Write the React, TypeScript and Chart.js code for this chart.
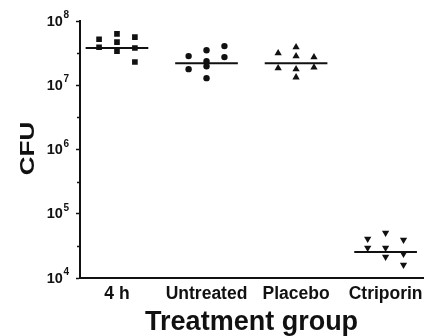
import React, { useEffect, useRef } from "react";
import { Chart, registerables } from "chart.js";

Chart.register(...registerables);

const CATEGORIES = ["4 h", "Untreated", "Placebo", "Ctriporin"];
const COLUMN_OFFSETS = [-0.2, 0, 0.2];

const VALUES_4H = [5.2e7, 3.9e7, 6.3e7, 4.7e7, 3.4e7, 5.6e7, 3.8e7, 2.3e7];
const COLUMNS_4H = [0, 0, 1, 1, 1, 2, 2, 2];

const VALUES_UNTREATED = [2.84e7, 1.78e7, 3.5e7, 2.37e7, 1.98e7, 1.29e7, 4.07e7, 2.74e7];
const COLUMNS_UNTREATED = [0, 0, 1, 1, 1, 1, 2, 2];

const VALUES_PLACEBO = [3.16e7, 1.85e7, 3.9e7, 2.84e7, 1.78e7, 1.33e7, 2.74e7, 1.9e7];
const COLUMNS_PLACEBO = [0, 0, 1, 1, 1, 1, 2, 2];

const VALUES_CTRIPORIN = [4.07e4, 2.94e4, 5.05e4, 2.94e4, 2.13e4, 3.93e4, 2.37e4, 1.6e4];
const COLUMNS_CTRIPORIN = [0, 0, 1, 1, 1, 2, 2, 2];

const MEDIANS = [3.8e7, 2.2e7, 2.2e7, 2.55e4];
const MEDIAN_HALF_WIDTH = 0.35;

const Y_MAJOR_TICKS = [1e4, 1e5, 1e6, 1e7, 1e8];
const Y_MINOR_TICKS = [3.162e4, 3.162e5, 3.162e6, 3.162e7];
const Y_TITLE = "CFU";

const FONT = "'Liberation Sans', Arial, sans-serif";

function points(groupIndex: number, values: number[], columns: number[]) {
  return values.map((v, i) => ({ x: groupIndex + COLUMN_OFFSETS[columns[i]], y: v }));
}

const axisExtrasPlugin = {
  id: "axisExtras",
  afterDraw(chart: any) {
    const y = chart.scales.y;
    const ctx = chart.ctx;
    const { left, top, bottom } = chart.chartArea;
    ctx.save();
    ctx.strokeStyle = "#111";
    ctx.lineWidth = 1.5;
    Y_MINOR_TICKS.forEach((v) => {
      const py = Math.round(y.getPixelForValue(v)) + 0.5;
      ctx.beginPath();
      ctx.moveTo(left - 3, py);
      ctx.lineTo(left, py);
      ctx.stroke();
    });
    // power-of-ten tick labels: "10" with a raised exponent
    ctx.fillStyle = "#111";
    const rightEdge = left - 11;
    Y_MAJOR_TICKS.forEach((v) => {
      const py = y.getPixelForValue(v);
      const exp = String(Math.round(Math.log10(v)));
      ctx.font = `bold 10px ${FONT}`;
      ctx.textAlign = "right";
      ctx.textBaseline = "alphabetic";
      const expWidth = ctx.measureText(exp).width;
      ctx.fillText(exp, rightEdge, py - 3);
      ctx.font = `bold 14.5px ${FONT}`;
      ctx.textBaseline = "middle";
      ctx.fillText("10", rightEdge - expWidth - 0.5, py + 0.5);
    });
    // y-axis title, rotated
    const cy = (top + bottom) / 2 - 1;
    ctx.translate(28, cy);
    ctx.rotate(-Math.PI / 2);
    ctx.scale(1.3, 1);
    ctx.font = `bold 20px ${FONT}`;
    ctx.textAlign = "center";
    ctx.textBaseline = "middle";
    ctx.fillText(Y_TITLE, 0, 0);
    ctx.restore();
  },
};

export default function App() {
  const canvasRef = useRef<HTMLCanvasElement | null>(null);

  useEffect(() => {
    document.body.style.margin = "0";
    const canvas = canvasRef.current;
    if (!canvas) return;

    const markerBase = {
      backgroundColor: "#111",
      borderColor: "#111",
      borderWidth: 0,
      showLine: false,
    };

    const medianSets = MEDIANS.map((m, i) => ({
      type: "line" as const,
      data: [
        { x: i - MEDIAN_HALF_WIDTH, y: m },
        { x: i + MEDIAN_HALF_WIDTH, y: m },
      ],
      borderColor: "#111",
      borderWidth: 2,
      pointRadius: 0,
      showLine: true,
      fill: false,
    }));

    const chart = new Chart(canvas, {
      type: "scatter",
      data: {
        datasets: [
          { ...markerBase, data: points(0, VALUES_4H, COLUMNS_4H), pointStyle: "rect", pointRadius: 4 },
          { ...markerBase, data: points(1, VALUES_UNTREATED, COLUMNS_UNTREATED), pointStyle: "circle", pointRadius: 3.2 },
          { ...markerBase, data: points(2, VALUES_PLACEBO, COLUMNS_PLACEBO), pointStyle: "triangle", pointRadius: 4.2 },
          { ...markerBase, data: points(3, VALUES_CTRIPORIN, COLUMNS_CTRIPORIN), pointStyle: "triangle", pointRotation: 180, pointRadius: 4.2 },
          ...medianSets,
        ] as any,
      },
      options: {
        animation: false,
        responsive: false,
        layout: { padding: { top: 21, right: 3, left: 0, bottom: 0 } },
        plugins: {
          legend: { display: false },
          tooltip: { enabled: false },
        },
        scales: {
          x: {
            type: "linear",
            min: -0.413,
            max: 3.42,
            afterBuildTicks: (scale: any) => {
              scale.ticks = CATEGORIES.map((_, i) => ({ value: i }));
            },
            afterFit: (scale: any) => {
              scale.height = 58;
            },
            grid: { display: false, drawTicks: false },
            border: { display: true, color: "#111", width: 2 },
            ticks: {
              padding: 6,
              color: "#111",
              maxRotation: 0,
              autoSkip: false,
              font: { family: FONT, size: 17.5, weight: "bold" },
              callback: (v: any) => CATEGORIES[Math.round(Number(v))] ?? "",
            },
            title: {
              display: true,
              text: "Treatment group",
              color: "#111",
              padding: { top: -2, bottom: 0 },
              font: { family: FONT, size: 27, weight: "bold", lineHeight: 1 },
            },
          },
          y: {
            type: "logarithmic",
            min: 1e4,
            max: 1e8,
            afterBuildTicks: (scale: any) => {
              scale.ticks = Y_MAJOR_TICKS.map((v) => ({ value: v, major: true }));
            },
            afterFit: (scale: any) => {
              scale.width = 80;
            },
            grid: {
              display: true,
              drawOnChartArea: false,
              drawTicks: true,
              tickLength: 4,
              tickColor: "#111",
              tickWidth: 1.5,
            },
            border: { display: true, color: "#111", width: 2 },
            ticks: {
              display: false,
            },
            title: {
              display: false,
            },
          },
        },
      },
      plugins: [axisExtrasPlugin],
    });

    return () => {
      chart.destroy();
    };
  }, []);

  return (
    <div style={{ width: 429, height: 336 }}>
      <canvas ref={canvasRef} width={429} height={336} style={{ display: "block" }} />
    </div>
  );
}
